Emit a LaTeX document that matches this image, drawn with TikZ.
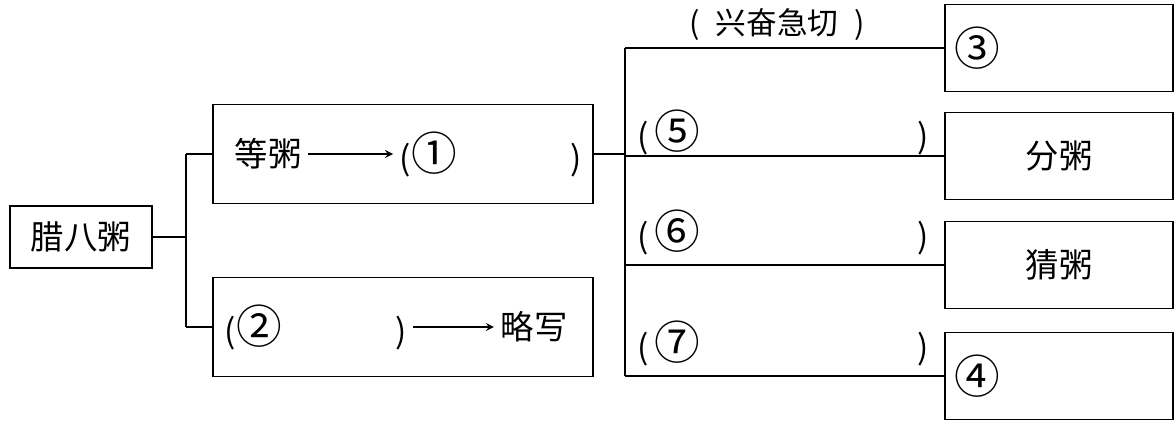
\documentclass[tikz,border=0pt]{standalone}
\usepackage{fontspec}
\newfontfamily\cjk{Noto Sans CJK SC}
\usetikzlibrary{positioning, arrows}
\tikzstyle{arrow} = [->,>=stealth]
\tikzstyle{box} = [draw, line width=1pt, inner sep=0pt]
\tikzstyle{rbox} = [box, minimum width=4.56cm, minimum height=1.74cm]
\newcommand{\cnum}[1]{{\fontsize{26}{26}\selectfont #1}}

\begin{document}
\begin{tikzpicture}[x=0.02cm, y=-0.02cm, line width=1pt, every node/.append style={font=\cjk\fontsize{19}{21}\selectfont}]
		\useasboundingbox (0,0) rectangle (1175,425);

		% left part
		\node[box, minimum width=2.84cm, minimum height=1.24cm] (lbz) at (81,237) {腊八粥};
		\node[box, minimum width=7.6cm, minimum height=1.98cm] (dengbox) at (403,154) {};
		\node[box, minimum width=7.6cm, minimum height=1.98cm] (luebox) at (403,327) {};
		\coordinate (j1) at (186,237);

		\draw (lbz) -- (j1);
		\draw (j1 |- dengbox.west) -- (j1 |- luebox.west);
		\draw (j1 |- dengbox.west) -- (dengbox.west);
		\draw (j1 |- luebox.west) -- (luebox.west);

		\node (deng) at (268,154) {等粥};
		\node[anchor=west] (blank1) at (393,154) {\makebox[3.3cm][l]{(\cnum{①}}\,)};
		\draw[arrow] (deng) -- (blank1);

		\node[anchor=west] (blank2) at (218,327) {\makebox[3.3cm][l]{(\cnum{②}}\,)};
		\node (lue) at (534,327) {略写};
		\draw[arrow] (blank2) -- (lue);

		% right part
		\node[rbox, align=left, text width=4.2cm] (b3) at (1059,48) {\cnum{③}};
		\node[rbox] (bfen) at (1059,156) {分粥};
		\node[rbox] (bcai) at (1059,265) {猜粥};
		\node[rbox, align=left, text width=4.2cm] (b4) at (1059,376) {\cnum{④}};
		\coordinate (j2) at (625,154);

		\draw (dengbox) -- (j2);
		\draw (j2 |- b3.west) -- (j2 |- b4.west);
		\foreach \b in {b3,bfen,bcai,b4}{
			\draw (j2 |- \b.west) -- (\b.west);
		}

		\node[font=\cjk\fontsize{17.5}{19}\selectfont] (xf) at (777,25) {(\hspace{0.32cm}兴奋急切\hspace{0.32cm})};
		\node[anchor=west] (l5) at (631,132) {\makebox[5.6cm][l]{(\hspace{0.1cm}\cnum{⑤}})};
		\node[anchor=west] (l6) at (631,232) {\makebox[5.6cm][l]{(\hspace{0.1cm}\cnum{⑥}})};
		\node[anchor=west] (l7) at (631,343) {\makebox[5.6cm][l]{(\hspace{0.1cm}\cnum{⑦}})};

	\end{tikzpicture}
\end{document}
